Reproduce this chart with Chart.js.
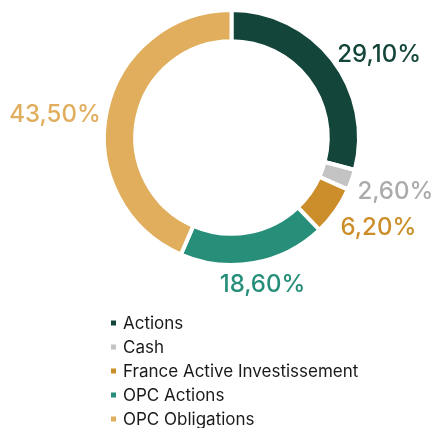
<!DOCTYPE html>
<html>
<head>
<meta charset="utf-8">
<script src="https://cdn.jsdelivr.net/npm/chart.js@4.4.0/dist/chart.umd.min.js"></script>
<style>
    html, body { margin: 0; padding: 0; background: #fff; }
    #wrap { width: 431px; height: 428px; position: relative; }
</style>
</head>
<body>
<div id="wrap"><canvas id="canvas"></canvas></div>
<script>
'use strict';

// allocation (%)
var categories = ['Actions', 'Cash', 'France Active Investissement', 'OPC Actions', 'OPC Obligations'];
var weights = [29.1, 2.6, 6.2, 18.6, 43.5];
var sliceColors = ['#14453A', '#C3C3C3', '#CC8E2A', '#268E79', '#E0AE5D'];
var labelColors = ['#14453A', '#ABABAB', '#CC8E2A', '#268E79', '#E0AE5D'];

var fontFamily = 'Inter, "Noto Sans", sans-serif';

function formatPct(v) {
    return v.toFixed(2).replace('.', ',') + '%';
}

// percentages outside of the ring
var outerLabels = {
    id: 'outerLabels',
    afterDatasetsDraw: function (chart) {
        var ctx = chart.ctx;
        var meta = chart.getDatasetMeta(0);
        ctx.save();
        ctx.font = '500 24px ' + fontFamily;
        ctx.textAlign = 'center';
        ctx.textBaseline = 'middle';
        meta.data.forEach(function (arc, i) {
            var p = arc.getProps(['x', 'y', 'startAngle', 'endAngle', 'outerRadius'], true);
            var mid = (p.startAngle + p.endAngle) / 2;
            var vx = Math.cos(mid), vy = Math.sin(mid);
            var r = p.outerRadius + 6;
            var text = formatPct(weights[i]);
            var w = ctx.measureText(text).width, h = 20;
            var vs = 1 / Math.max(Math.abs(vx), Math.abs(vy));
            var x = p.x + vx * r + vx * vs * w / 2;
            var y = p.y + vy * r + vy * vs * h / 2 + 6;
            ctx.fillStyle = labelColors[i];
            ctx.fillText(text, x, y);
        });
        ctx.restore();
    }
};

// legend as a single column under the ring
var columnLegend = {
    id: 'columnLegend',
    afterDraw: function (chart) {
        var ctx = chart.ctx;
        var left = 111, top = 323, step = 24, box = 5;
        ctx.save();
        ctx.font = '17px ' + fontFamily;
        ctx.textAlign = 'left';
        ctx.textBaseline = 'middle';
        categories.forEach(function (name, i) {
            var y = top + i * step;
            ctx.fillStyle = sliceColors[i];
            ctx.fillRect(left, y - box / 2, box, box);
            ctx.fillStyle = '#1a1a1a';
            ctx.fillText(name, left + 12, y + 1);
        });
        ctx.restore();
    }
};

var ctx = document.getElementById('canvas').getContext('2d');
var chart = new Chart(ctx, {
    type: 'doughnut',
    data: {
        labels: categories,
        datasets: [{
            data: weights,
            backgroundColor: sliceColors,
            borderColor: '#ffffff',
            borderWidth: 4,
            hoverOffset: 0
        }]
    },
    options: {
        responsive: true,
        maintainAspectRatio: false,
        animation: false,
        cutout: '75.5%',
        layout: { padding: { left: 32, top: 8, right: 0, bottom: 161 } },
        plugins: {
            legend: { display: false },
            tooltip: { enabled: false }
        }
    },
    plugins: [outerLabels, columnLegend]
});
</script>
</body>
</html>
